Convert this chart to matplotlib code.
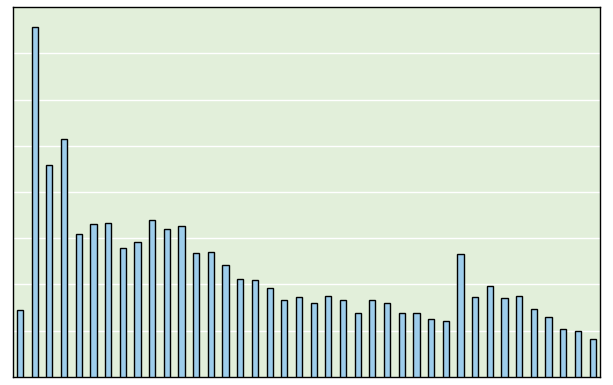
import numpy as np
import matplotlib.pyplot as plt

# bar heights (grid unit = 1)
values = [1.45, 7.57, 4.58, 5.15, 3.09, 3.31, 3.33, 2.79, 2.92, 3.39,
          3.20, 3.26, 2.68, 2.70, 2.42, 2.12, 2.10, 1.92, 1.66, 1.73,
          1.60, 1.75, 1.66, 1.38, 1.66, 1.60, 1.38, 1.38, 1.25, 1.21,
          2.66, 1.73, 1.97, 1.71, 1.75, 1.47, 1.30, 1.04, 0.99, 0.82]
x = np.arange(len(values))

fig = plt.figure(figsize=(6.13, 3.85), dpi=100)
ax = fig.add_axes([0.0207, 0.0208, 0.958, 0.961])
ax.set_facecolor('#E2EFDA')

ax.bar(x, values, width=0.42, color='#9DCDEB', edgecolor='black', linewidth=1, zorder=3)

ax.set_xlim(-0.5, len(values) - 0.5)
ax.set_ylim(0, 8)
ax.set_yticks(np.arange(1, 8))
ax.yaxis.grid(True, color='white', linewidth=1, zorder=0)
ax.tick_params(left=False, bottom=False, labelleft=False, labelbottom=False)
for s in ax.spines.values():
    s.set_color('black')
    s.set_linewidth(1)

fig.savefig('out.png', dpi=100)
